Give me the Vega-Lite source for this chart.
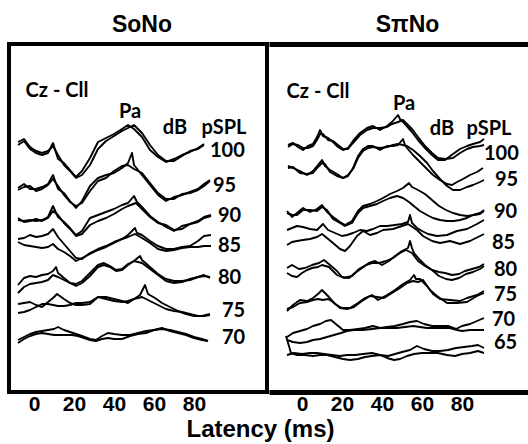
{
"$schema":"https://vega.github.io/schema/vega-lite/v6.json",
"padding":{"left":7,"top":12,"right":0,"bottom":0},
"spacing":0,
"title":{"text":"Latency (ms)","orient":"bottom","anchor":"middle","font":"Liberation Sans","fontSize":24,"fontWeight":"bold","color":"black","offset":2,"dx":-8},
"datasets":{
"so":[
{"k":"100a","t":-8,"v":247},{"k":"100a","t":-5,"v":251},{"k":"100a","t":-2,"v":243},{"k":"100a","t":1,"v":239},{"k":"100a","t":4,"v":237},{"k":"100a","t":7,"v":239},{"k":"100a","t":9.5,"v":249},{"k":"100a","t":12,"v":233},{"k":"100a","t":15,"v":229},{"k":"100a","t":18,"v":222},{"k":"100a","t":21,"v":215},{"k":"100a","t":24,"v":221},{"k":"100a","t":28,"v":234},{"k":"100a","t":32,"v":250},{"k":"100a","t":36,"v":254},{"k":"100a","t":40,"v":258},{"k":"100a","t":44,"v":263},{"k":"100a","t":47,"v":267},{"k":"100a","t":50,"v":263},{"k":"100a","t":54,"v":255},{"k":"100a","t":58,"v":242},{"k":"100a","t":62,"v":235},{"k":"100a","t":66,"v":230},{"k":"100a","t":70,"v":233},{"k":"100a","t":74,"v":237},{"k":"100a","t":78,"v":240},{"k":"100a","t":82,"v":244},{"k":"100a","t":85,"v":248},
{"k":"100b","t":-8,"v":250},{"k":"100b","t":-5,"v":253},{"k":"100b","t":-2,"v":245},{"k":"100b","t":1,"v":241},{"k":"100b","t":4,"v":239},{"k":"100b","t":7,"v":241},{"k":"100b","t":9.5,"v":246},{"k":"100b","t":12,"v":237},{"k":"100b","t":15,"v":227},{"k":"100b","t":18,"v":221},{"k":"100b","t":21,"v":214},{"k":"100b","t":24,"v":217},{"k":"100b","t":28,"v":227},{"k":"100b","t":32,"v":243},{"k":"100b","t":36,"v":251},{"k":"100b","t":40,"v":256},{"k":"100b","t":44,"v":261},{"k":"100b","t":47,"v":264},{"k":"100b","t":50,"v":267},{"k":"100b","t":54,"v":259},{"k":"100b","t":58,"v":247},{"k":"100b","t":62,"v":237},{"k":"100b","t":66,"v":231},{"k":"100b","t":70,"v":231},{"k":"100b","t":74,"v":236},{"k":"100b","t":78,"v":241},{"k":"100b","t":82,"v":243},{"k":"100b","t":85,"v":247},
{"k":"95a","t":-8,"v":204},{"k":"95a","t":-5,"v":208},{"k":"95a","t":-2,"v":203},{"k":"95a","t":1,"v":203},{"k":"95a","t":4,"v":205},{"k":"95a","t":7,"v":208},{"k":"95a","t":9.5,"v":217},{"k":"95a","t":12,"v":203},{"k":"95a","t":15,"v":199},{"k":"95a","t":18,"v":191},{"k":"95a","t":21,"v":184},{"k":"95a","t":24,"v":191},{"k":"95a","t":28,"v":206},{"k":"95a","t":32,"v":214},{"k":"95a","t":36,"v":217},{"k":"95a","t":40,"v":219},{"k":"95a","t":44,"v":224},{"k":"95a","t":47,"v":229},{"k":"95a","t":49,"v":239},{"k":"95a","t":50,"v":227},{"k":"95a","t":54,"v":217},{"k":"95a","t":58,"v":207},{"k":"95a","t":62,"v":197},{"k":"95a","t":66,"v":191},{"k":"95a","t":70,"v":195},{"k":"95a","t":74,"v":197},{"k":"95a","t":78,"v":200},{"k":"95a","t":82,"v":203},{"k":"95a","t":85,"v":208},{"k":"95a","t":88,"v":212},
{"k":"95b","t":-8,"v":202},{"k":"95b","t":-5,"v":205},{"k":"95b","t":-2,"v":206},{"k":"95b","t":1,"v":201},{"k":"95b","t":4,"v":203},{"k":"95b","t":7,"v":207},{"k":"95b","t":9.5,"v":213},{"k":"95b","t":12,"v":206},{"k":"95b","t":15,"v":197},{"k":"95b","t":18,"v":190},{"k":"95b","t":21,"v":186},{"k":"95b","t":24,"v":189},{"k":"95b","t":28,"v":201},{"k":"95b","t":32,"v":211},{"k":"95b","t":36,"v":214},{"k":"95b","t":40,"v":221},{"k":"95b","t":44,"v":226},{"k":"95b","t":47,"v":227},{"k":"95b","t":50,"v":223},{"k":"95b","t":54,"v":219},{"k":"95b","t":58,"v":209},{"k":"95b","t":62,"v":199},{"k":"95b","t":66,"v":193},{"k":"95b","t":70,"v":193},{"k":"95b","t":74,"v":198},{"k":"95b","t":78,"v":199},{"k":"95b","t":82,"v":202},{"k":"95b","t":85,"v":206},{"k":"95b","t":88,"v":211},
{"k":"90a","t":-8,"v":172},{"k":"90a","t":-5,"v":171},{"k":"90a","t":-2,"v":172},{"k":"90a","t":1,"v":171},{"k":"90a","t":4,"v":172},{"k":"90a","t":7,"v":175},{"k":"90a","t":9.5,"v":186},{"k":"90a","t":12,"v":175},{"k":"90a","t":15,"v":170},{"k":"90a","t":18,"v":164},{"k":"90a","t":21,"v":157},{"k":"90a","t":24,"v":161},{"k":"90a","t":28,"v":174},{"k":"90a","t":32,"v":177},{"k":"90a","t":36,"v":180},{"k":"90a","t":40,"v":183},{"k":"90a","t":44,"v":187},{"k":"90a","t":47,"v":189},{"k":"90a","t":50,"v":196},{"k":"90a","t":51.5,"v":190},{"k":"90a","t":54,"v":185},{"k":"90a","t":58,"v":176},{"k":"90a","t":62,"v":170},{"k":"90a","t":66,"v":165},{"k":"90a","t":70,"v":161},{"k":"90a","t":74,"v":166},{"k":"90a","t":78,"v":168},{"k":"90a","t":82,"v":171},{"k":"90a","t":85,"v":175},{"k":"90a","t":88.5,"v":177},
{"k":"90b","t":-8,"v":174},{"k":"90b","t":-5,"v":170},{"k":"90b","t":-2,"v":171},{"k":"90b","t":1,"v":173},{"k":"90b","t":4,"v":171},{"k":"90b","t":7,"v":174},{"k":"90b","t":9.5,"v":181},{"k":"90b","t":12,"v":177},{"k":"90b","t":15,"v":169},{"k":"90b","t":18,"v":163},{"k":"90b","t":21,"v":156},{"k":"90b","t":24,"v":158},{"k":"90b","t":28,"v":167},{"k":"90b","t":32,"v":171},{"k":"90b","t":36,"v":174},{"k":"90b","t":40,"v":178},{"k":"90b","t":44,"v":183},{"k":"90b","t":47,"v":186},{"k":"90b","t":51,"v":189},{"k":"90b","t":54,"v":183},{"k":"90b","t":58,"v":175},{"k":"90b","t":62,"v":169},{"k":"90b","t":66,"v":167},{"k":"90b","t":70,"v":162},{"k":"90b","t":74,"v":163},{"k":"90b","t":78,"v":168},{"k":"90b","t":82,"v":170},{"k":"90b","t":85,"v":174},{"k":"90b","t":88.5,"v":176},
{"k":"85a","t":-8,"v":153},{"k":"85a","t":-5,"v":154},{"k":"85a","t":-2,"v":157},{"k":"85a","t":1,"v":155},{"k":"85a","t":4,"v":156},{"k":"85a","t":7,"v":158},{"k":"85a","t":9.5,"v":163},{"k":"85a","t":12,"v":155},{"k":"85a","t":15,"v":148},{"k":"85a","t":18,"v":141},{"k":"85a","t":21,"v":134},{"k":"85a","t":24,"v":133},{"k":"85a","t":28,"v":139},{"k":"85a","t":32,"v":143},{"k":"85a","t":36,"v":146},{"k":"85a","t":40,"v":150},{"k":"85a","t":44,"v":153},{"k":"85a","t":47,"v":157},{"k":"85a","t":50.5,"v":164},{"k":"85a","t":51.5,"v":159},{"k":"85a","t":54,"v":157},{"k":"85a","t":58,"v":151},{"k":"85a","t":62,"v":146},{"k":"85a","t":66,"v":143},{"k":"85a","t":70,"v":143},{"k":"85a","t":74,"v":145},{"k":"85a","t":78,"v":146},{"k":"85a","t":82,"v":151},{"k":"85a","t":85,"v":156},{"k":"85a","t":88.5,"v":157},
{"k":"85b","t":-8,"v":150},{"k":"85b","t":-5,"v":147},{"k":"85b","t":-2,"v":146},{"k":"85b","t":1,"v":145},{"k":"85b","t":4,"v":144},{"k":"85b","t":7,"v":145},{"k":"85b","t":9.5,"v":148},{"k":"85b","t":12,"v":143},{"k":"85b","t":15,"v":140},{"k":"85b","t":18,"v":136},{"k":"85b","t":21,"v":131},{"k":"85b","t":24,"v":134},{"k":"85b","t":28,"v":138},{"k":"85b","t":32,"v":142},{"k":"85b","t":36,"v":145},{"k":"85b","t":40,"v":149},{"k":"85b","t":44,"v":153},{"k":"85b","t":47,"v":155},{"k":"85b","t":50.5,"v":158},{"k":"85b","t":54,"v":154},{"k":"85b","t":58,"v":149},{"k":"85b","t":62,"v":143},{"k":"85b","t":66,"v":141},{"k":"85b","t":70,"v":142},{"k":"85b","t":74,"v":144},{"k":"85b","t":78,"v":145},{"k":"85b","t":82,"v":145},{"k":"85b","t":85,"v":146},{"k":"85b","t":88.5,"v":146},
{"k":"80a","t":-8,"v":107},{"k":"80a","t":-5,"v":114},{"k":"80a","t":-2,"v":116},{"k":"80a","t":1,"v":115},{"k":"80a","t":4,"v":117},{"k":"80a","t":7,"v":118},{"k":"80a","t":9.5,"v":121},{"k":"80a","t":11,"v":125},{"k":"80a","t":12,"v":119},{"k":"80a","t":15,"v":114},{"k":"80a","t":18,"v":109},{"k":"80a","t":21,"v":108},{"k":"80a","t":24,"v":111},{"k":"80a","t":28,"v":119},{"k":"80a","t":32,"v":127},{"k":"80a","t":35,"v":129},{"k":"80a","t":38,"v":126},{"k":"80a","t":41,"v":122},{"k":"80a","t":44,"v":123},{"k":"80a","t":47,"v":128},{"k":"80a","t":50,"v":131},{"k":"80a","t":53,"v":136},{"k":"80a","t":54,"v":132},{"k":"80a","t":58,"v":125},{"k":"80a","t":62,"v":118},{"k":"80a","t":66,"v":113},{"k":"80a","t":70,"v":111},{"k":"80a","t":74,"v":111},{"k":"80a","t":78,"v":112},{"k":"80a","t":82,"v":115},{"k":"80a","t":85,"v":116},{"k":"80a","t":88,"v":115},
{"k":"80b","t":-8,"v":99},{"k":"80b","t":-5,"v":105},{"k":"80b","t":-2,"v":108},{"k":"80b","t":1,"v":109},{"k":"80b","t":4,"v":110},{"k":"80b","t":7,"v":112},{"k":"80b","t":9.5,"v":117},{"k":"80b","t":12,"v":115},{"k":"80b","t":15,"v":112},{"k":"80b","t":18,"v":109},{"k":"80b","t":21,"v":106},{"k":"80b","t":24,"v":109},{"k":"80b","t":28,"v":116},{"k":"80b","t":32,"v":125},{"k":"80b","t":35,"v":127},{"k":"80b","t":38,"v":125},{"k":"80b","t":41,"v":121},{"k":"80b","t":44,"v":122},{"k":"80b","t":47,"v":127},{"k":"80b","t":50,"v":131},{"k":"80b","t":54,"v":129},{"k":"80b","t":58,"v":123},{"k":"80b","t":62,"v":117},{"k":"80b","t":66,"v":111},{"k":"80b","t":70,"v":109},{"k":"80b","t":74,"v":110},{"k":"80b","t":78,"v":113},{"k":"80b","t":82,"v":115},{"k":"80b","t":85,"v":117},{"k":"80b","t":88,"v":114},
{"k":"75a","t":-8,"v":88},{"k":"75a","t":-5,"v":89},{"k":"75a","t":-2,"v":90},{"k":"75a","t":1,"v":87},{"k":"75a","t":4,"v":85},{"k":"75a","t":7,"v":90},{"k":"75a","t":9.5,"v":94},{"k":"75a","t":11.5,"v":98},{"k":"75a","t":15,"v":93},{"k":"75a","t":18,"v":89},{"k":"75a","t":21,"v":87},{"k":"75a","t":24,"v":87},{"k":"75a","t":28,"v":88},{"k":"75a","t":32,"v":95},{"k":"75a","t":36,"v":95},{"k":"75a","t":40,"v":93},{"k":"75a","t":44,"v":91},{"k":"75a","t":47,"v":89},{"k":"75a","t":50,"v":93},{"k":"75a","t":53,"v":97},{"k":"75a","t":55.5,"v":107},{"k":"75a","t":57,"v":98},{"k":"75a","t":60.5,"v":94},{"k":"75a","t":64,"v":89},{"k":"75a","t":68,"v":85},{"k":"75a","t":72,"v":81},{"k":"75a","t":76,"v":78},{"k":"75a","t":80,"v":76},{"k":"75a","t":84,"v":76},{"k":"75a","t":88,"v":78},
{"k":"75b","t":-8,"v":79},{"k":"75b","t":-5,"v":80},{"k":"75b","t":-2,"v":82},{"k":"75b","t":1,"v":85},{"k":"75b","t":4,"v":88},{"k":"75b","t":7,"v":88},{"k":"75b","t":9.5,"v":87},{"k":"75b","t":12,"v":86},{"k":"75b","t":15,"v":86},{"k":"75b","t":18,"v":87},{"k":"75b","t":21,"v":89},{"k":"75b","t":24,"v":89},{"k":"75b","t":28,"v":90},{"k":"75b","t":32,"v":95},{"k":"75b","t":36,"v":93},{"k":"75b","t":40,"v":91},{"k":"75b","t":44,"v":90},{"k":"75b","t":47,"v":91},{"k":"75b","t":50,"v":93},{"k":"75b","t":54,"v":95},{"k":"75b","t":58,"v":91},{"k":"75b","t":62,"v":87},{"k":"75b","t":66,"v":83},{"k":"75b","t":70,"v":81},{"k":"75b","t":74,"v":80},{"k":"75b","t":78,"v":78},{"k":"75b","t":82,"v":76},{"k":"75b","t":85,"v":76},{"k":"75b","t":88,"v":77},
{"k":"70a","t":-8,"v":52},{"k":"70a","t":-5,"v":55},{"k":"70a","t":-2,"v":58},{"k":"70a","t":1,"v":60},{"k":"70a","t":4,"v":61},{"k":"70a","t":7,"v":62},{"k":"70a","t":10,"v":63},{"k":"70a","t":12,"v":65},{"k":"70a","t":15,"v":62},{"k":"70a","t":18,"v":60},{"k":"70a","t":21,"v":58},{"k":"70a","t":24,"v":56},{"k":"70a","t":28,"v":53},{"k":"70a","t":31,"v":52},{"k":"70a","t":34,"v":56},{"k":"70a","t":37,"v":59},{"k":"70a","t":40,"v":58},{"k":"70a","t":44,"v":57},{"k":"70a","t":48,"v":57},{"k":"70a","t":52,"v":59},{"k":"70a","t":56,"v":61},{"k":"70a","t":60,"v":62},{"k":"70a","t":64,"v":63},{"k":"70a","t":68,"v":62},{"k":"70a","t":72,"v":60},{"k":"70a","t":76,"v":58},{"k":"70a","t":80,"v":55},{"k":"70a","t":84,"v":53},{"k":"70a","t":87,"v":51},
{"k":"70b","t":-8,"v":49},{"k":"70b","t":-5,"v":53},{"k":"70b","t":-2,"v":56},{"k":"70b","t":1,"v":58},{"k":"70b","t":4,"v":59},{"k":"70b","t":7,"v":58},{"k":"70b","t":10,"v":57},{"k":"70b","t":13,"v":57},{"k":"70b","t":16,"v":57},{"k":"70b","t":19,"v":57},{"k":"70b","t":22,"v":56},{"k":"70b","t":25,"v":54},{"k":"70b","t":28,"v":52},{"k":"70b","t":31,"v":51},{"k":"70b","t":34,"v":53},{"k":"70b","t":37,"v":54},{"k":"70b","t":40,"v":53},{"k":"70b","t":44,"v":53},{"k":"70b","t":48,"v":56},{"k":"70b","t":52,"v":58},{"k":"70b","t":56,"v":59},{"k":"70b","t":60,"v":62},{"k":"70b","t":64,"v":64},{"k":"70b","t":68,"v":61},{"k":"70b","t":72,"v":59},{"k":"70b","t":76,"v":57},{"k":"70b","t":80,"v":54},{"k":"70b","t":84,"v":52},{"k":"70b","t":87,"v":51}
],
"spi":[
{"k":"100a","t":-7,"v":247},{"k":"100a","t":-4.5,"v":249},{"k":"100a","t":-2,"v":245},{"k":"100a","t":0.5,"v":242},{"k":"100a","t":3,"v":246},{"k":"100a","t":5.5,"v":248},{"k":"100a","t":7.5,"v":255},{"k":"100a","t":9,"v":262},{"k":"100a","t":10.5,"v":256},{"k":"100a","t":13,"v":254},{"k":"100a","t":15.5,"v":250},{"k":"100a","t":18,"v":245},{"k":"100a","t":20.5,"v":242},{"k":"100a","t":23,"v":244},{"k":"100a","t":25.5,"v":251},{"k":"100a","t":29,"v":259},{"k":"100a","t":32.5,"v":264},{"k":"100a","t":35.5,"v":266},{"k":"100a","t":39,"v":262},{"k":"100a","t":42.5,"v":266},{"k":"100a","t":45,"v":270},{"k":"100a","t":48,"v":277},{"k":"100a","t":49,"v":273},{"k":"100a","t":51.5,"v":268},{"k":"100a","t":55,"v":260},{"k":"100a","t":58,"v":252},{"k":"100a","t":61.5,"v":244},{"k":"100a","t":65,"v":237},{"k":"100a","t":68,"v":232},{"k":"100a","t":71.5,"v":232},{"k":"100a","t":75.5,"v":238},{"k":"100a","t":79,"v":243},{"k":"100a","t":82.5,"v":246},{"k":"100a","t":85.5,"v":248},{"k":"100a","t":89,"v":250},{"k":"100a","t":91,"v":253},
{"k":"100b","t":-7,"v":245},{"k":"100b","t":-4.5,"v":248},{"k":"100b","t":-2,"v":247},{"k":"100b","t":0.5,"v":244},{"k":"100b","t":3,"v":244},{"k":"100b","t":5.5,"v":246},{"k":"100b","t":7.5,"v":252},{"k":"100b","t":9,"v":258},{"k":"100b","t":10.5,"v":258},{"k":"100b","t":13,"v":252},{"k":"100b","t":15.5,"v":251},{"k":"100b","t":18,"v":247},{"k":"100b","t":20.5,"v":243},{"k":"100b","t":23,"v":243},{"k":"100b","t":25.5,"v":249},{"k":"100b","t":29,"v":257},{"k":"100b","t":32.5,"v":262},{"k":"100b","t":35.5,"v":264},{"k":"100b","t":39,"v":264},{"k":"100b","t":42.5,"v":265},{"k":"100b","t":45,"v":268},{"k":"100b","t":48,"v":270},{"k":"100b","t":50.5,"v":272},{"k":"100b","t":52.5,"v":268},{"k":"100b","t":55,"v":263},{"k":"100b","t":58,"v":255},{"k":"100b","t":61.5,"v":246},{"k":"100b","t":65,"v":239},{"k":"100b","t":68,"v":234},{"k":"100b","t":71.5,"v":233},{"k":"100b","t":75.5,"v":234},{"k":"100b","t":79,"v":239},{"k":"100b","t":82.5,"v":243},{"k":"100b","t":85.5,"v":245},{"k":"100b","t":89,"v":246},{"k":"100b","t":91,"v":247},
{"k":"95a","t":-7,"v":226},{"k":"95a","t":-4.5,"v":224},{"k":"95a","t":-1,"v":221},{"k":"95a","t":2.5,"v":217},{"k":"95a","t":5.5,"v":221},{"k":"95a","t":8,"v":227},{"k":"95a","t":10,"v":232},{"k":"95a","t":11.5,"v":226},{"k":"95a","t":14,"v":222},{"k":"95a","t":17.5,"v":218},{"k":"95a","t":20.5,"v":214},{"k":"95a","t":23,"v":216},{"k":"95a","t":25.5,"v":224},{"k":"95a","t":28,"v":236},{"k":"95a","t":30.5,"v":243},{"k":"95a","t":33,"v":246},{"k":"95a","t":35.5,"v":246},{"k":"95a","t":39,"v":242},{"k":"95a","t":42.5,"v":246},{"k":"95a","t":45.5,"v":246},{"k":"95a","t":48,"v":247},{"k":"95a","t":50.5,"v":253},{"k":"95a","t":51.5,"v":247},{"k":"95a","t":52.5,"v":244},{"k":"95a","t":55.5,"v":237},{"k":"95a","t":59,"v":230},{"k":"95a","t":62.5,"v":223},{"k":"95a","t":65.5,"v":217},{"k":"95a","t":69,"v":212},{"k":"95a","t":72.5,"v":208},{"k":"95a","t":75,"v":207},{"k":"95a","t":77.5,"v":210},{"k":"95a","t":80.5,"v":213},{"k":"95a","t":84,"v":217},{"k":"95a","t":87.5,"v":220},{"k":"95a","t":90.5,"v":224},
{"k":"95b","t":-7,"v":224},{"k":"95b","t":-4.5,"v":225},{"k":"95b","t":-1,"v":219},{"k":"95b","t":2.5,"v":218},{"k":"95b","t":5.5,"v":219},{"k":"95b","t":8,"v":225},{"k":"95b","t":10,"v":229},{"k":"95b","t":11.5,"v":228},{"k":"95b","t":14,"v":220},{"k":"95b","t":17.5,"v":216},{"k":"95b","t":20.5,"v":214},{"k":"95b","t":23,"v":217},{"k":"95b","t":25.5,"v":223},{"k":"95b","t":28,"v":234},{"k":"95b","t":30.5,"v":241},{"k":"95b","t":33,"v":244},{"k":"95b","t":35.5,"v":245},{"k":"95b","t":39,"v":244},{"k":"95b","t":42.5,"v":245},{"k":"95b","t":45.5,"v":247},{"k":"95b","t":48,"v":248},{"k":"95b","t":50.5,"v":247},{"k":"95b","t":52.5,"v":246},{"k":"95b","t":55.5,"v":242},{"k":"95b","t":59,"v":236},{"k":"95b","t":62.5,"v":229},{"k":"95b","t":65.5,"v":221},{"k":"95b","t":69,"v":213},{"k":"95b","t":72.5,"v":206},{"k":"95b","t":75.5,"v":202},{"k":"95b","t":79,"v":202},{"k":"95b","t":82.5,"v":205},{"k":"95b","t":85.5,"v":207},{"k":"95b","t":89,"v":210},{"k":"95b","t":91,"v":212},
{"k":"90a","t":-7.5,"v":181},{"k":"90a","t":-5,"v":175},{"k":"90a","t":-2.5,"v":179},{"k":"90a","t":0.5,"v":184},{"k":"90a","t":4,"v":180},{"k":"90a","t":7.5,"v":183},{"k":"90a","t":10,"v":187},{"k":"90a","t":12.5,"v":180},{"k":"90a","t":15.5,"v":175},{"k":"90a","t":19,"v":170},{"k":"90a","t":21.5,"v":167},{"k":"90a","t":25,"v":171},{"k":"90a","t":28,"v":181},{"k":"90a","t":30.5,"v":186},{"k":"90a","t":34,"v":188},{"k":"90a","t":37.5,"v":191},{"k":"90a","t":40.5,"v":194},{"k":"90a","t":44,"v":198},{"k":"90a","t":47.5,"v":201},{"k":"90a","t":50.5,"v":204},{"k":"90a","t":53.5,"v":209},{"k":"90a","t":55,"v":205},{"k":"90a","t":58,"v":202},{"k":"90a","t":61.5,"v":198},{"k":"90a","t":65,"v":192},{"k":"90a","t":68.5,"v":186},{"k":"90a","t":72,"v":182},{"k":"90a","t":75.5,"v":179},{"k":"90a","t":79,"v":177},{"k":"90a","t":82.5,"v":176},{"k":"90a","t":86,"v":177},{"k":"90a","t":89,"v":178},{"k":"90a","t":91,"v":181},
{"k":"90b","t":-7.5,"v":179},{"k":"90b","t":-5,"v":177},{"k":"90b","t":-2.5,"v":177},{"k":"90b","t":0.5,"v":182},{"k":"90b","t":4,"v":182},{"k":"90b","t":7.5,"v":181},{"k":"90b","t":10,"v":185},{"k":"90b","t":12.5,"v":182},{"k":"90b","t":15.5,"v":173},{"k":"90b","t":19,"v":169},{"k":"90b","t":21.5,"v":166},{"k":"90b","t":25,"v":169},{"k":"90b","t":28,"v":179},{"k":"90b","t":30.5,"v":184},{"k":"90b","t":34,"v":186},{"k":"90b","t":37.5,"v":188},{"k":"90b","t":40.5,"v":191},{"k":"90b","t":44,"v":194},{"k":"90b","t":47.5,"v":196},{"k":"90b","t":50.5,"v":194},{"k":"90b","t":53.5,"v":190},{"k":"90b","t":56.5,"v":185},{"k":"90b","t":59,"v":181},{"k":"90b","t":62.5,"v":177},{"k":"90b","t":65.5,"v":174},{"k":"90b","t":69,"v":172},{"k":"90b","t":72.5,"v":171},{"k":"90b","t":76,"v":171},{"k":"90b","t":79,"v":172},{"k":"90b","t":82.5,"v":174},{"k":"90b","t":85.5,"v":177},{"k":"90b","t":89,"v":179},{"k":"90b","t":91,"v":182},
{"k":"85a","t":-7.5,"v":162},{"k":"85a","t":-5,"v":164},{"k":"85a","t":-2.5,"v":166},{"k":"85a","t":0.5,"v":165},{"k":"85a","t":4,"v":163},{"k":"85a","t":7.5,"v":162},{"k":"85a","t":10.5,"v":168},{"k":"85a","t":13,"v":162},{"k":"85a","t":16.5,"v":159},{"k":"85a","t":20,"v":156},{"k":"85a","t":22.5,"v":157},{"k":"85a","t":25.5,"v":159},{"k":"85a","t":29,"v":162},{"k":"85a","t":32.5,"v":161},{"k":"85a","t":35.5,"v":163},{"k":"85a","t":39,"v":166},{"k":"85a","t":42.5,"v":166},{"k":"85a","t":46.5,"v":167},{"k":"85a","t":50,"v":168},{"k":"85a","t":53,"v":170},{"k":"85a","t":54,"v":177},{"k":"85a","t":55,"v":169},{"k":"85a","t":57.5,"v":164},{"k":"85a","t":60,"v":161},{"k":"85a","t":63,"v":158},{"k":"85a","t":67.5,"v":156},{"k":"85a","t":72.5,"v":157},{"k":"85a","t":77.5,"v":161},{"k":"85a","t":82.5,"v":163},{"k":"85a","t":87.5,"v":168},{"k":"85a","t":91,"v":172},
{"k":"85b","t":-7.5,"v":147},{"k":"85b","t":-5,"v":150},{"k":"85b","t":-2.5,"v":151},{"k":"85b","t":0.5,"v":152},{"k":"85b","t":4,"v":153},{"k":"85b","t":7.5,"v":155},{"k":"85b","t":10,"v":158},{"k":"85b","t":12.5,"v":154},{"k":"85b","t":15.5,"v":149},{"k":"85b","t":19,"v":143},{"k":"85b","t":21.5,"v":141},{"k":"85b","t":24,"v":146},{"k":"85b","t":27.5,"v":156},{"k":"85b","t":30.5,"v":161},{"k":"85b","t":34,"v":157},{"k":"85b","t":37.5,"v":159},{"k":"85b","t":40.5,"v":162},{"k":"85b","t":45.5,"v":163},{"k":"85b","t":50,"v":166},{"k":"85b","t":53,"v":168},{"k":"85b","t":57.5,"v":162},{"k":"85b","t":60.5,"v":156},{"k":"85b","t":65,"v":151},{"k":"85b","t":69,"v":149},{"k":"85b","t":74,"v":151},{"k":"85b","t":79,"v":148},{"k":"85b","t":84,"v":151},{"k":"85b","t":89,"v":156},{"k":"85b","t":91,"v":158},
{"k":"80a","t":-7.5,"v":124},{"k":"80a","t":-5,"v":127},{"k":"80a","t":-1.5,"v":123},{"k":"80a","t":1.5,"v":124},{"k":"80a","t":5,"v":127},{"k":"80a","t":8.5,"v":129},{"k":"80a","t":11,"v":132},{"k":"80a","t":14,"v":127},{"k":"80a","t":17.5,"v":121},{"k":"80a","t":20,"v":115},{"k":"80a","t":23.5,"v":114},{"k":"80a","t":26.5,"v":119},{"k":"80a","t":30,"v":124},{"k":"80a","t":33.5,"v":129},{"k":"80a","t":36.5,"v":131},{"k":"80a","t":40,"v":127},{"k":"80a","t":43.5,"v":131},{"k":"80a","t":46.5,"v":136},{"k":"80a","t":50,"v":141},{"k":"80a","t":53,"v":144},{"k":"80a","t":54,"v":151},{"k":"80a","t":55,"v":144},{"k":"80a","t":56,"v":139},{"k":"80a","t":58.5,"v":133},{"k":"80a","t":61.5,"v":127},{"k":"80a","t":65,"v":122},{"k":"80a","t":68.5,"v":120},{"k":"80a","t":71.5,"v":119},{"k":"80a","t":75,"v":117},{"k":"80a","t":78.5,"v":118},{"k":"80a","t":81.5,"v":121},{"k":"80a","t":85,"v":123},{"k":"80a","t":88.5,"v":125},{"k":"80a","t":91,"v":128},
{"k":"80b","t":-7.5,"v":119},{"k":"80b","t":-5,"v":116},{"k":"80b","t":-2.5,"v":115},{"k":"80b","t":0,"v":119},{"k":"80b","t":2.5,"v":122},{"k":"80b","t":5,"v":124},{"k":"80b","t":8,"v":125},{"k":"80b","t":10,"v":127},{"k":"80b","t":13.5,"v":125},{"k":"80b","t":17.5,"v":117},{"k":"80b","t":21,"v":114},{"k":"80b","t":25,"v":116},{"k":"80b","t":28.5,"v":123},{"k":"80b","t":32,"v":127},{"k":"80b","t":35,"v":129},{"k":"80b","t":38.5,"v":129},{"k":"80b","t":42,"v":131},{"k":"80b","t":45.5,"v":134},{"k":"80b","t":49,"v":139},{"k":"80b","t":52,"v":142},{"k":"80b","t":55,"v":139},{"k":"80b","t":58,"v":131},{"k":"80b","t":61.5,"v":126},{"k":"80b","t":65,"v":122},{"k":"80b","t":68.5,"v":116},{"k":"80b","t":72,"v":113},{"k":"80b","t":75,"v":112},{"k":"80b","t":78.5,"v":114},{"k":"80b","t":82,"v":118},{"k":"80b","t":85.5,"v":120},{"k":"80b","t":89,"v":123},{"k":"80b","t":91,"v":126},
{"k":"75a","t":-7.5,"v":81},{"k":"75a","t":-4.5,"v":87},{"k":"75a","t":-1,"v":92},{"k":"75a","t":2.5,"v":91},{"k":"75a","t":5.5,"v":94},{"k":"75a","t":8,"v":98},{"k":"75a","t":10,"v":102},{"k":"75a","t":13,"v":96},{"k":"75a","t":16.5,"v":88},{"k":"75a","t":20,"v":84},{"k":"75a","t":24,"v":84},{"k":"75a","t":28,"v":89},{"k":"75a","t":31.5,"v":94},{"k":"75a","t":35,"v":97},{"k":"75a","t":38,"v":92},{"k":"75a","t":42.5,"v":97},{"k":"75a","t":46.5,"v":102},{"k":"75a","t":50.5,"v":108},{"k":"75a","t":54,"v":112},{"k":"75a","t":56,"v":117},{"k":"75a","t":57,"v":113},{"k":"75a","t":59,"v":113},{"k":"75a","t":62.5,"v":106},{"k":"75a","t":65.5,"v":98},{"k":"75a","t":69,"v":93},{"k":"75a","t":74,"v":92},{"k":"75a","t":79,"v":91},{"k":"75a","t":82.5,"v":94},{"k":"75a","t":87.5,"v":97},{"k":"75a","t":91,"v":101},
{"k":"75b","t":-7.5,"v":83},{"k":"75b","t":-4.5,"v":85},{"k":"75b","t":-1,"v":89},{"k":"75b","t":2.5,"v":90},{"k":"75b","t":5.5,"v":92},{"k":"75b","t":8,"v":93},{"k":"75b","t":10.5,"v":92},{"k":"75b","t":13,"v":93},{"k":"75b","t":15.5,"v":90},{"k":"75b","t":19,"v":84},{"k":"75b","t":22.5,"v":83},{"k":"75b","t":26,"v":85},{"k":"75b","t":30,"v":91},{"k":"75b","t":34,"v":96},{"k":"75b","t":37.5,"v":95},{"k":"75b","t":41,"v":94},{"k":"75b","t":45,"v":99},{"k":"75b","t":49,"v":104},{"k":"75b","t":52.5,"v":109},{"k":"75b","t":55.5,"v":111},{"k":"75b","t":58,"v":110},{"k":"75b","t":60.5,"v":112},{"k":"75b","t":64,"v":102},{"k":"75b","t":67.5,"v":96},{"k":"75b","t":72.5,"v":89},{"k":"75b","t":77.5,"v":89},{"k":"75b","t":82.5,"v":90},{"k":"75b","t":87.5,"v":96},{"k":"75b","t":91,"v":99},
{"k":"70a","t":-7.5,"v":55},{"k":"70a","t":-4.5,"v":59},{"k":"70a","t":-1,"v":61},{"k":"70a","t":2.5,"v":63},{"k":"70a","t":5.5,"v":66},{"k":"70a","t":9,"v":68},{"k":"70a","t":12,"v":71},{"k":"70a","t":14.5,"v":72},{"k":"70a","t":17.5,"v":67},{"k":"70a","t":20.5,"v":62},{"k":"70a","t":24,"v":62},{"k":"70a","t":28,"v":63},{"k":"70a","t":31.5,"v":64},{"k":"70a","t":35.5,"v":66},{"k":"70a","t":39,"v":64},{"k":"70a","t":42.5,"v":65},{"k":"70a","t":46.5,"v":66},{"k":"70a","t":50.5,"v":68},{"k":"70a","t":54,"v":70},{"k":"70a","t":57.5,"v":71},{"k":"70a","t":61,"v":68},{"k":"70a","t":65,"v":66},{"k":"70a","t":69,"v":66},{"k":"70a","t":73,"v":66},{"k":"70a","t":77,"v":63},{"k":"70a","t":80,"v":66},{"k":"70a","t":84,"v":68},{"k":"70a","t":87.5,"v":71},{"k":"70a","t":91,"v":74},
{"k":"70b","t":-7.5,"v":52},{"k":"70b","t":-4.5,"v":50},{"k":"70b","t":-1,"v":49},{"k":"70b","t":2.5,"v":50},{"k":"70b","t":5.5,"v":52},{"k":"70b","t":9,"v":53},{"k":"70b","t":12.5,"v":55},{"k":"70b","t":16,"v":57},{"k":"70b","t":19.5,"v":59},{"k":"70b","t":22.5,"v":61},{"k":"70b","t":26,"v":62},{"k":"70b","t":30.5,"v":62},{"k":"70b","t":35,"v":63},{"k":"70b","t":39,"v":64},{"k":"70b","t":43,"v":64},{"k":"70b","t":47.5,"v":64},{"k":"70b","t":51.5,"v":65},{"k":"70b","t":55.5,"v":66},{"k":"70b","t":59,"v":65},{"k":"70b","t":62.5,"v":64},{"k":"70b","t":66.5,"v":64},{"k":"70b","t":70.5,"v":64},{"k":"70b","t":74,"v":64},{"k":"70b","t":77.5,"v":62},{"k":"70b","t":80,"v":61},{"k":"70b","t":84,"v":62},{"k":"70b","t":87.5,"v":62},{"k":"70b","t":91,"v":62},
{"k":"65a","t":-8,"v":56},{"k":"65a","t":-5.5,"v":39},{"k":"65a","t":-2.5,"v":37},{"k":"65a","t":1.5,"v":37},{"k":"65a","t":5.5,"v":36},{"k":"65a","t":9,"v":37},{"k":"65a","t":12.5,"v":37},{"k":"65a","t":16.5,"v":35},{"k":"65a","t":20.5,"v":33},{"k":"65a","t":24,"v":32},{"k":"65a","t":28,"v":33},{"k":"65a","t":31.5,"v":35},{"k":"65a","t":35,"v":36},{"k":"65a","t":39,"v":37},{"k":"65a","t":43,"v":36},{"k":"65a","t":46.5,"v":38},{"k":"65a","t":50,"v":40},{"k":"65a","t":54,"v":42},{"k":"65a","t":57.5,"v":46},{"k":"65a","t":61,"v":43},{"k":"65a","t":65,"v":41},{"k":"65a","t":69,"v":41},{"k":"65a","t":73,"v":42},{"k":"65a","t":77,"v":44},{"k":"65a","t":81,"v":45},{"k":"65a","t":85,"v":46},{"k":"65a","t":88,"v":47},{"k":"65a","t":91,"v":44},
{"k":"65b","t":-7.5,"v":37},{"k":"65b","t":-4,"v":39},{"k":"65b","t":0,"v":38},{"k":"65b","t":4,"v":39},{"k":"65b","t":7.5,"v":39},{"k":"65b","t":11,"v":38},{"k":"65b","t":15,"v":37},{"k":"65b","t":19,"v":36},{"k":"65b","t":22.5,"v":37},{"k":"65b","t":26.5,"v":37},{"k":"65b","t":30.5,"v":38},{"k":"65b","t":35,"v":39},{"k":"65b","t":39,"v":37},{"k":"65b","t":42.5,"v":34},{"k":"65b","t":46,"v":32},{"k":"65b","t":49,"v":33},{"k":"65b","t":52.5,"v":36},{"k":"65b","t":56,"v":38},{"k":"65b","t":60,"v":39},{"k":"65b","t":64,"v":39},{"k":"65b","t":68,"v":39},{"k":"65b","t":72.5,"v":37},{"k":"65b","t":76.5,"v":36},{"k":"65b","t":80,"v":38},{"k":"65b","t":84,"v":39},{"k":"65b","t":88,"v":41},{"k":"65b","t":91,"v":39}
],
"soText":[
{"s":"Cz - Cll","g":"note","t":11.5,"v":301},{"s":"Pa","g":"note","t":48,"v":280},{"s":"dB","g":"note","t":70.5,"v":264},{"s":"pSPL","g":"note","t":95,"v":264},
{"s":"100","g":"level","t":88,"v":241},{"s":"95","g":"level","t":89.5,"v":206},{"s":"90","g":"level","t":92,"v":176},{"s":"85","g":"level","t":92,"v":146},{"s":"80","g":"level","t":92,"v":114},{"s":"75","g":"level","t":94,"v":81},{"s":"70","g":"level","t":94,"v":54}
],
"spiText":[
{"s":"Cz - Cll","g":"note","t":8,"v":300},{"s":"Pa","g":"note","t":51,"v":288},{"s":"dB","g":"note","t":70,"v":263},{"s":"pSPL","g":"note","t":93.5,"v":263},
{"s":"100","g":"level","t":91,"v":238},{"s":"95","g":"level","t":96.5,"v":212},{"s":"90","g":"level","t":96,"v":180},{"s":"85","g":"level","t":95,"v":149},{"s":"80","g":"level","t":96,"v":122},{"s":"75","g":"level","t":96,"v":97},{"s":"70","g":"level","t":95,"v":72},{"s":"65","g":"level","t":96,"v":49}
]
},
"hconcat":[
{
"width":258,"height":348,
"title":{"text":"SoNo","anchor":"middle","font":"Liberation Sans","fontSize":23,"fontWeight":"bold","color":"black","offset":7,"dx":4},
"encoding":{
"x":{"field":"t","type":"quantitative","scale":{"domain":[-12.5,116.5],"nice":false,"zero":false},"axis":{"values":[0,20,40,60,80],"title":null,"domain":false,"ticks":false,"grid":false,"labelFont":"Liberation Sans","labelFontWeight":"bold","labelFontSize":21,"labelColor":"black","labelPadding":1}},
"y":{"field":"v","type":"quantitative","scale":{"domain":[0,348],"nice":false,"zero":false},"axis":null}
},
"layer":[
{"data":{"name":"so"},"mark":{"type":"line","color":"black","strokeWidth":1.9,"strokeJoin":"round"},"encoding":{"detail":{"field":"k"}}},
{"data":{"name":"soText"},"transform":[{"filter":"datum.g == 'note'"}],"mark":{"type":"text","font":"Lato","fontWeight":"bold","fontSize":20,"align":"center","baseline":"middle","color":"black"},"encoding":{"text":{"field":"s"}}},
{"data":{"name":"soText"},"transform":[{"filter":"datum.g == 'level'"}],"mark":{"type":"text","font":"Lato","fontWeight":"bold","fontSize":20,"align":"left","baseline":"middle","color":"black"},"encoding":{"text":{"field":"s"}}}
]
},
{
"width":261,"height":348,
"view":{"stroke":null},
"title":{"text":"SπNo","anchor":"middle","font":"Liberation Sans","fontSize":23,"fontWeight":"bold","color":"black","offset":7,"dx":8},
"resolve":{"axis":{"x":"independent"}},
"encoding":{
"y":{"field":"v","type":"quantitative","scale":{"domain":[0,348],"nice":false,"zero":false},"axis":null}
},
"layer":[
{"data":{"name":"spi"},"mark":{"type":"line","color":"black","strokeWidth":1.9,"strokeJoin":"round"},"encoding":{"x":{"field":"t","type":"quantitative","scale":{"domain":[-16.5,114],"nice":false,"zero":false},"axis":{"orient":"bottom","values":[0,20,40,60,80],"title":null,"domain":true,"domainColor":"black","domainWidth":5,"ticks":false,"grid":false,"labelFont":"Liberation Sans","labelFontWeight":"bold","labelFontSize":21,"labelColor":"black","labelPadding":1}},"detail":{"field":"k"}}},
{"data":{"name":"spiText"},"transform":[{"filter":"datum.g == 'note'"}],"mark":{"type":"text","font":"Lato","fontWeight":"bold","fontSize":20,"align":"center","baseline":"middle","color":"black"},"encoding":{"x":{"field":"t","type":"quantitative","scale":{"domain":[-16.5,114],"nice":false,"zero":false},"axis":{"orient":"top","title":null,"labels":false,"ticks":false,"grid":false,"domain":true,"domainColor":"black","domainWidth":5}},"text":{"field":"s"}}},
{"data":{"name":"spiText"},"transform":[{"filter":"datum.g == 'level'"}],"mark":{"type":"text","font":"Lato","fontWeight":"bold","fontSize":20,"align":"left","baseline":"middle","color":"black"},"encoding":{"x":{"field":"t","type":"quantitative","scale":{"domain":[-16.5,114],"nice":false,"zero":false},"axis":null},"text":{"field":"s"}}}
]
}
],
"config":{"view":{"stroke":"black","strokeWidth":4},"background":"white"}
}
